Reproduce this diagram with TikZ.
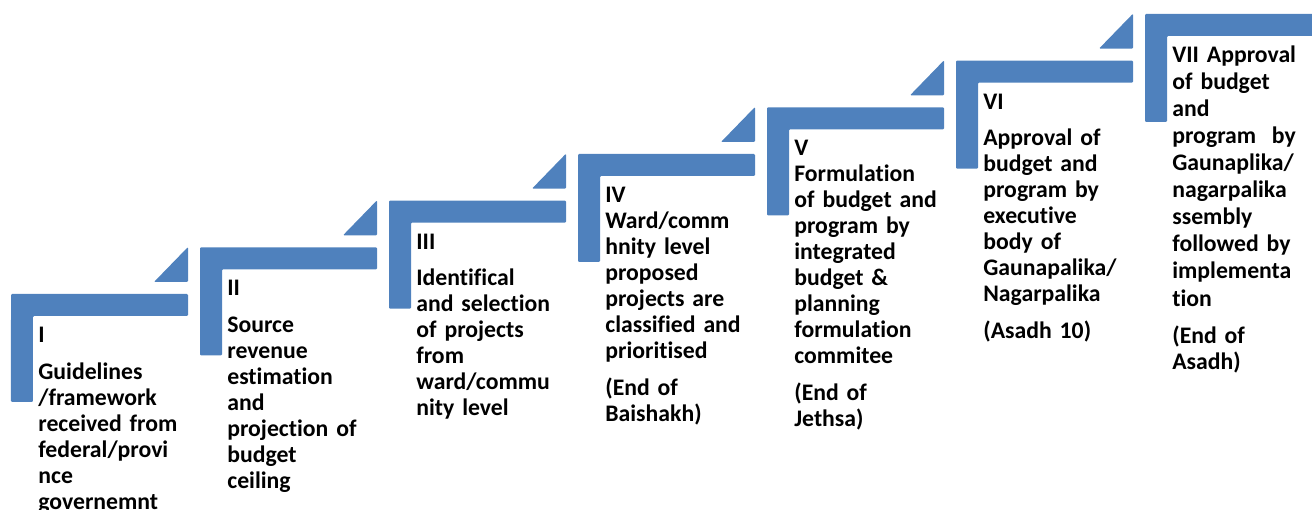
\documentclass[tikz,border=0pt]{standalone}
\usepackage{fontspec}
\setmainfont{Carlito}[RawFeature={-liga;-clig;-dlig;-calt}]
\usepackage{xcolor}
\usepackage{tikz}
\usetikzlibrary{positioning}
\definecolor{azulpaso}{HTML}{4F81BD}
\tikzset{
  escalon/.style={fill=azulpaso, draw=none, rounded corners=0.6pt},
  textopaso/.style={anchor=base west, inner sep=0pt, text width=3.5cm, align=left,
    font=\bfseries\fontsize{13.5}{14.8}\selectfont}
}

\begin{document}
\begin{tikzpicture}
        \useasboundingbox (0,0) rectangle (26.24,10.2);
        \clip (0,0) rectangle (26.24,10.2);
        % Escalones: barra horizontal y barra vertical
        \foreach \i in {0,...,6} {
            \fill[escalon] ({0.22+3.78*\i},{4.32+0.9333*\i}) -- ++(3.54,0) -- ++(0,-0.44)
                -- ++(-3.10,0) -- ++(0,-1.72) -- ++(-0.44,0) -- cycle;
        }
        % Triangulos sobre cada escalon
        \foreach \i in {0,...,5} {
            \fill[escalon] ({3.76+3.78*\i},{4.56+0.9333*\i}) -- ++(0,0.7) -- ++(-0.68,-0.7) -- cycle;
        }
        % Texto de cada paso
        \foreach \i/\txt in {
            0/{I\\[6pt] Guidelines\\ /framework\\ received from\\ federal/provi\\ nce\\ governemnt},
            1/{II\\[6pt] Source\\ revenue\\ estimation\\ and\\ projection of\\ budget\\ ceiling},
            2/{III\\[6pt] Identifical\\ and selection\\ of projects\\ from\\ ward/commu\\ nity level},
            3/{IV\\ Ward/comm\\ hnity level\\ proposed\\ projects are\\ classified and\\ prioritised\\[6pt] (End of\\ Baishakh)},
            4/{V\\ Formulation\\ of budget and\\ program by\\ integrated\\ budget \&\\ planning\\ formulation\\ commitee\\[6pt] (End of\\ Jethsa)},
            5/{VI\\[6pt] Approval of\\ budget and\\ program by\\ executive\\ body of\\ Gaunapalika/\\ Nagarpalika\\[6pt] (Asadh 10)},
            6/{\fontsize{13.5}{15.4}\selectfont VII Approval\\ of budget\\ and\\ program~ by\\ Gaunaplika/\\ nagarpalika\\ ssembly\\ followed by\\ implementa\\ tion\\[6pt] (End of\\ Asadh)}} {
            \node[textopaso] (paso\i) at ({0.76+3.78*\i},{3.35+0.9333*\i}) {\txt};
        }
\end{tikzpicture}
\end{document}
